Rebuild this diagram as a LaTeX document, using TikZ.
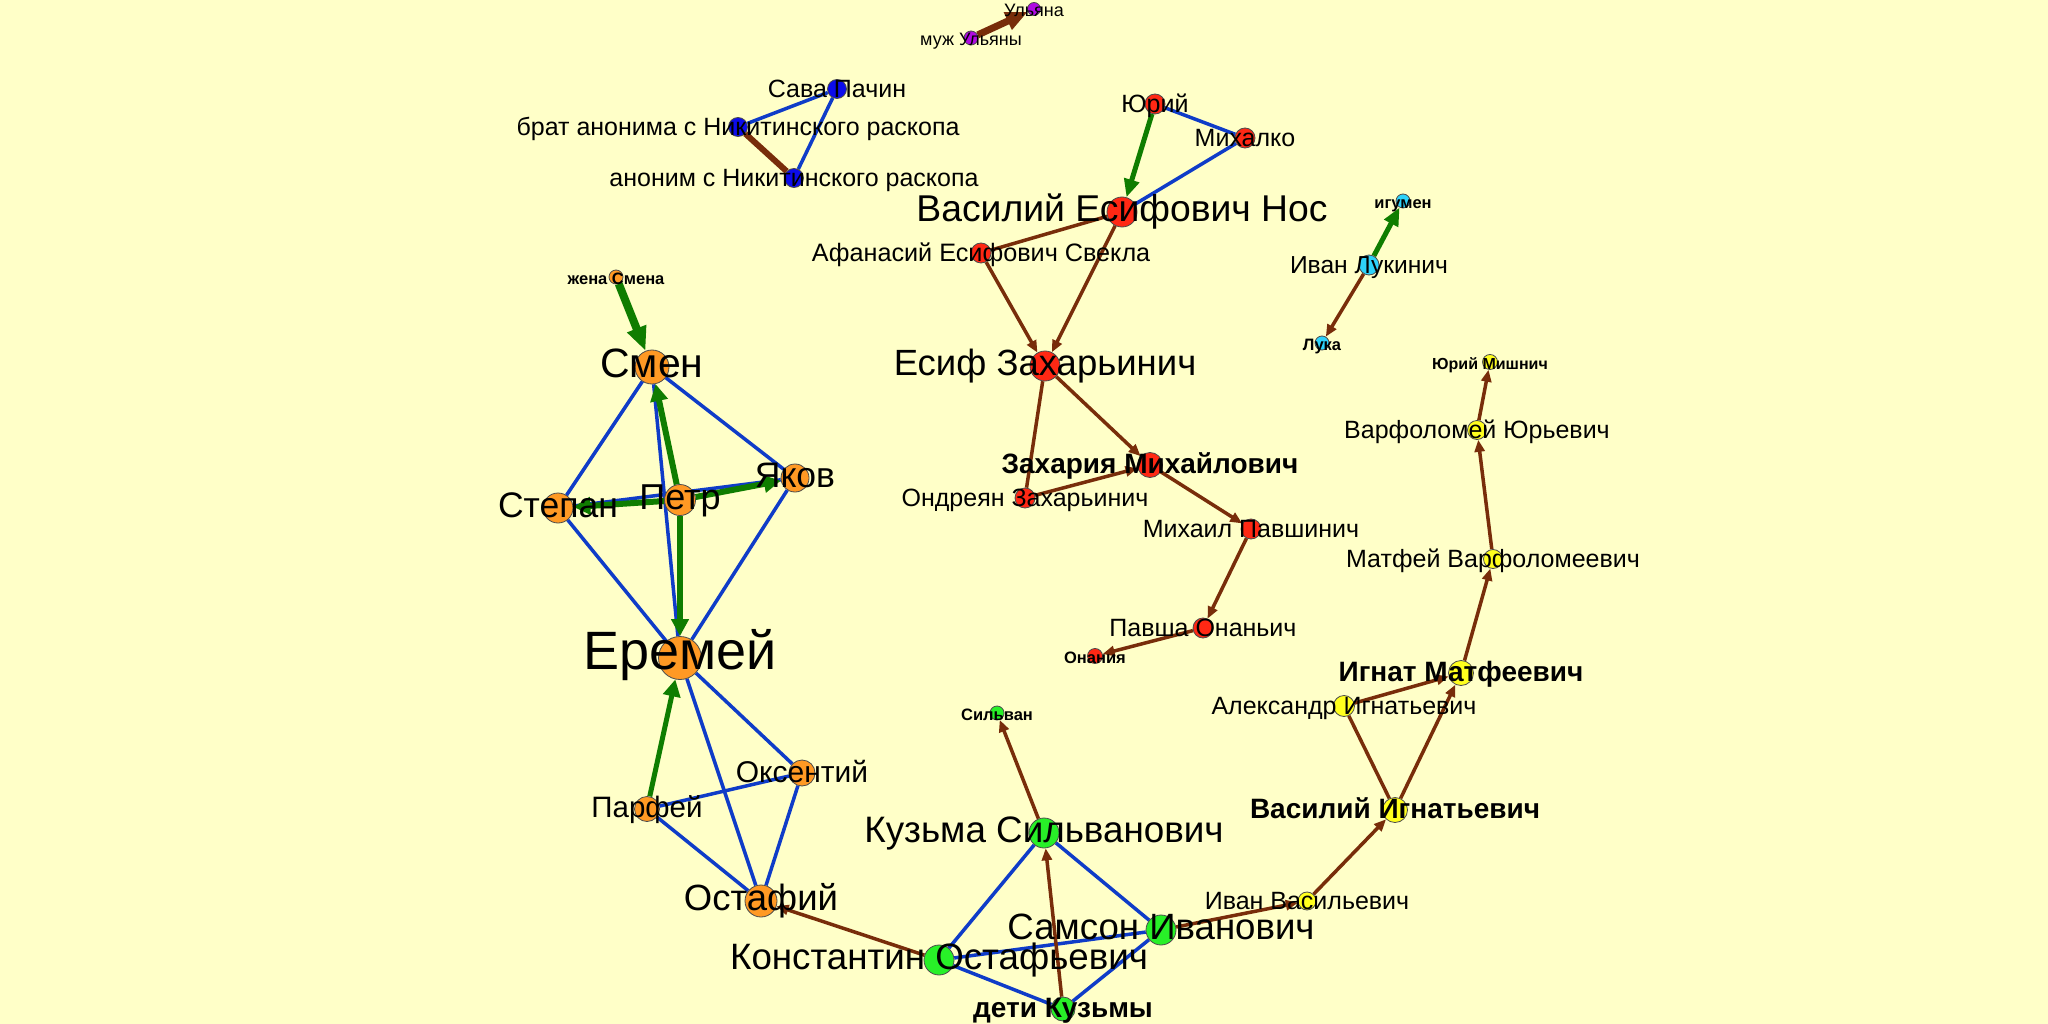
\documentclass[tikz,border=0pt]{standalone}
\usepackage{fontspec}
\setmainfont{Liberation Sans}
\usetikzlibrary{arrows.meta}
\definecolor{bgc}{RGB}{255,255,200}
\definecolor{orn}{RGB}{255,153,36}
\definecolor{redn}{RGB}{255,40,20}
\definecolor{bluen}{RGB}{12,12,235}
\definecolor{purp}{RGB}{175,10,225}
\definecolor{cyann}{RGB}{45,210,250}
\definecolor{yelln}{RGB}{255,255,30}
\definecolor{grn}{RGB}{40,240,40}
\definecolor{eblue}{RGB}{15,60,200}
\definecolor{egreen}{RGB}{15,125,0}
\definecolor{ebrown}{RGB}{120,45,10}
\pgfdeclarelayer{back}\pgfdeclarelayer{edges}\pgfdeclarelayer{labels}
\pgfsetlayers{back,edges,main,labels}
\tikzset{
  pn/.style={circle, draw=black!70, line width=0.8pt, inner sep=0pt},
  be/.style={draw=eblue, line width=3.5pt},
  ge/.style={draw=egreen, line width=6pt, -{Triangle[length=17pt,width=17pt]}},
  br/.style={draw=ebrown, line width=3.5pt},
  bra/.style={br, -{Triangle[length=12pt,width=10pt]}},
}
\newcommand\pnode[5]{\node[pn, fill=#5, minimum size=#4pt] (#1) at (#2,#3) {};}
\newcommand\lbl[5]{\node[anchor=base, inner sep=0pt, font=\fontsize{#4}{#4}\selectfont] (l#1) at (#2,{#3+0.1*#4+6}) {#5};}
\newcommand\lblb[5]{\node[anchor=base, inner sep=0pt, font=\fontsize{#4}{#4}\selectfont\bfseries] (l#1) at (#2,{#3+0.1*#4+6}) {#5};}
\begin{document}
\begin{tikzpicture}[x=1pt,y=-1pt]
\begin{pgfonlayer}{back}
\fill[bgc] (0,0) rectangle (2048,1024);
\end{pgfonlayer}
\path[use as bounding box] (0,0) rectangle (2048,1024);
% nodes
\pnode{ul}{1034}{9}{13}{purp}
\pnode{mu}{971}{38}{14}{purp}
\pnode{sava}{837}{89}{19}{bluen}
\pnode{brat}{738}{127}{19}{bluen}
\pnode{anon}{794}{178}{19}{bluen}
\pnode{yuri}{1155}{104}{20}{redn}
\pnode{mikhalko}{1245}{138}{20}{redn}
\pnode{vnos}{1122}{212}{30}{redn}
\pnode{afan}{981}{253}{20}{redn}
\pnode{esif}{1045}{366}{30}{redn}
\pnode{zakh}{1150}{465}{25}{redn}
\pnode{ondr}{1025}{498}{20}{redn}
\pnode{mikh}{1251}{529}{20}{redn}
\pnode{pavsha}{1203}{628}{20}{redn}
\pnode{onan}{1095}{656}{15}{redn}
\pnode{igumen}{1403}{201}{14}{cyann}
\pnode{ivanL}{1369}{265}{20}{cyann}
\pnode{luka}{1322}{343}{14}{cyann}
\pnode{yuriM}{1490}{362}{15}{yelln}
\pnode{varf}{1477}{430}{19}{yelln}
\pnode{matf}{1493}{559}{19}{yelln}
\pnode{ignat}{1461}{673}{25}{yelln}
\pnode{alex}{1344}{706}{21}{yelln}
\pnode{vasI}{1395}{810}{25}{yelln}
\pnode{ivanV}{1307}{901}{18}{yelln}
\pnode{zhena}{616}{277}{14}{orn}
\pnode{smen}{652}{367}{34}{orn}
\pnode{stepan}{558}{508}{30}{orn}
\pnode{petr}{680}{500}{31}{orn}
\pnode{yakov}{795}{478}{28}{orn}
\pnode{eremei}{680}{658}{43}{orn}
\pnode{parfei}{647}{809}{25}{orn}
\pnode{oksent}{802}{773}{26}{orn}
\pnode{ostaf}{761}{901}{32}{orn}
\pnode{silvan}{997}{713}{14}{grn}
\pnode{kuzma}{1044}{833}{30}{grn}
\pnode{samson}{1161}{930}{30}{grn}
\pnode{konst}{939}{960}{30}{grn}
\pnode{deti}{1063}{1009}{24}{grn}
% edges
\begin{pgfonlayer}{edges}
\draw[be] (sava) -- (brat);
\draw[be] (sava) -- (anon);
\draw[be] (yuri) -- (mikhalko);
\draw[be] (mikhalko) -- (vnos);
\draw[be] (smen) -- (stepan);
\draw[be] (smen) -- (yakov);
\draw[be] (smen) -- (eremei);
\draw[be] (stepan) -- (eremei);
\draw[be] (yakov) -- (eremei);
\draw[be] (stepan) -- (yakov);
\draw[be] (eremei) -- (oksent);
\draw[be] (eremei) -- (ostaf);
\draw[be] (parfei) -- (oksent);
\draw[be] (parfei) -- (ostaf);
\draw[be] (oksent) -- (ostaf);
\draw[be] (kuzma) -- (konst);
\draw[be] (kuzma) -- (samson);
\draw[be] (konst) -- (samson);
\draw[be] (konst) -- (deti);
\draw[be] (samson) -- (deti);
\draw[ge, line width=8pt, -{Triangle[length=24pt,width=19pt]}] (zhena) -- (smen);
\draw[ge] (petr) -- (smen);
\draw[ge] (petr) -- (stepan);
\draw[ge] (petr) -- (yakov);
\draw[ge] (petr) -- (eremei);
\draw[ge, line width=5pt] (parfei) -- (eremei);
\draw[ge, line width=5pt, -{Triangle[length=18pt,width=15pt]}] (yuri) -- (vnos);
\draw[ge, line width=5pt, -{Triangle[length=18pt,width=15pt]}] (ivanL) -- (igumen);
\draw[br, line width=7pt, -{Triangle[length=22pt,width=18pt]}] (mu) -- (ul);
\draw[br, line width=6pt] (brat) -- (anon);
\draw[br] (vnos) -- (afan);
\draw[bra] (afan) -- (esif);
\draw[bra] (vnos) -- (esif);
\draw[bra] (esif) -- (zakh);
\draw[br] (esif) -- (ondr);
\draw[bra] (ondr) -- (zakh);
\draw[bra] (zakh) -- (mikh);
\draw[bra] (mikh) -- (pavsha);
\draw[bra] (pavsha) -- (onan);
\draw[bra] (ivanL) -- (luka);
\draw[bra] (varf) -- (yuriM);
\draw[bra] (matf) -- (varf);
\draw[bra] (ignat) -- (matf);
\draw[bra] (alex) -- (ignat);
\draw[bra] (vasI) -- (ignat);
\draw[br] (alex) -- (vasI);
\draw[bra] (ivanV) -- (vasI);
\draw[bra] (samson) -- (ivanV);
\draw[bra] (kuzma) -- (silvan);
\draw[bra] (deti) -- (kuzma);
\draw[bra] (konst) -- (ostaf);
\end{pgfonlayer}
% labels
\begin{pgfonlayer}{labels}
\lbl{ul}{1034}{9}{18}{Ульяна}
\lbl{mu}{971}{38}{18}{муж Ульяны}
\lbl{sava}{837}{89}{25}{Сава Пачин}
\lbl{brat}{738}{127}{25}{брат анонима с Никитинского раскопа}
\lbl{anon}{794}{178}{25}{аноним с Никитинского раскопа}
\lbl{yuri}{1155}{104}{25}{Юрий}
\lbl{mikhalko}{1245}{138}{25}{Михалко}
\lbl{vnos}{1122}{212}{37.3}{Василий Есифович Нос}
\lbl{afan}{981}{253}{25.2}{Афанасий Есифович Свекла}
\lbl{esif}{1045}{366}{36.5}{Есиф Захарьинич}
\lblb{zakh}{1150}{465}{28}{Захария Михайлович}
\lbl{ondr}{1025}{498}{25}{Ондреян Захарьинич}
\lbl{mikh}{1251}{529}{25}{Михаил Павшинич}
\lbl{pavsha}{1203}{628}{25}{Павша Онаньич}
\lblb{onan}{1095}{656}{16.5}{Онания}
\lblb{igumen}{1403}{201}{16.5}{игумен}
\lbl{ivanL}{1369}{265}{24.6}{Иван Лукинич}
\lblb{luka}{1322}{343}{16.5}{Лука}
\lblb{yuriM}{1490}{362}{16}{Юрий Мишнич}
\lbl{varf}{1477}{430}{25}{Варфоломей Юрьевич}
\lbl{matf}{1493}{559}{25}{Матфей Варфоломеевич}
\lblb{ignat}{1461}{673}{28}{Игнат Матфеевич}
\lbl{alex}{1344}{706}{25}{Александр Игнатьевич}
\lblb{vasI}{1395}{810}{28}{Василий Игнатьевич}
\lbl{ivanV}{1307}{901}{25}{Иван Васильевич}
\lblb{zhena}{616}{277}{16.5}{жена Смена}
\lbl{smen}{652}{367}{41}{Смен}
\lbl{stepan}{558}{508}{35.5}{Степан}
\lbl{petr}{680}{500}{36}{Петр}
\lbl{yakov}{795}{478}{35.5}{Яков}
\lbl{eremei}{680}{658}{54}{Еремей}
\lbl{parfei}{647}{809}{29.5}{Парфей}
\lbl{oksent}{802}{773}{30}{Оксентий}
\lbl{ostaf}{761}{901}{36.5}{Остафий}
\lblb{silvan}{997}{713}{16.5}{Сильван}
\lbl{kuzma}{1044}{833}{36.8}{Кузьма Сильванович}
\lbl{samson}{1161}{930}{36.6}{Самсон Иванович}
\lbl{konst}{939}{960}{36.7}{Константин Остафьевич}
\lblb{deti}{1063}{1009}{28}{дети Кузьмы}
\end{pgfonlayer}
\end{tikzpicture}
\end{document}
